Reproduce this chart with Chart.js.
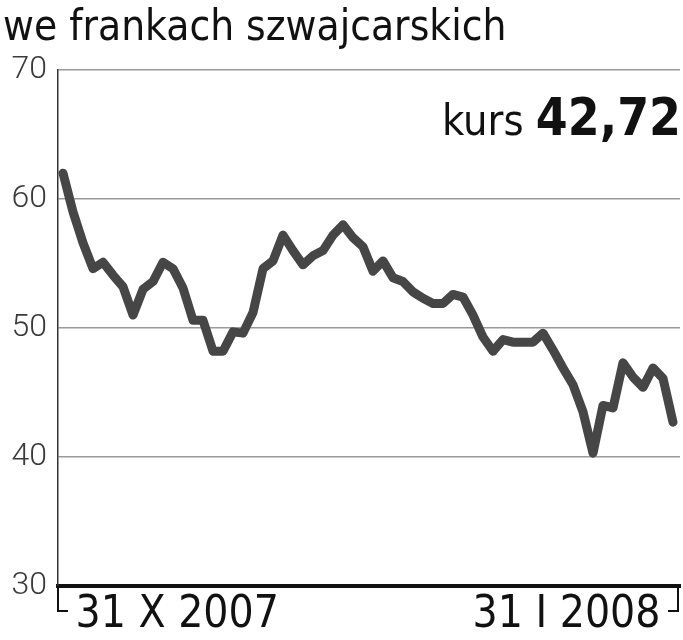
<!DOCTYPE html>
<html>
<head>
<meta charset="utf-8">
<script src="https://cdn.jsdelivr.net/npm/chart.js@4.4.1/dist/chart.umd.min.js"></script>
<style>
  body { margin: 0; background: #fff; }
  #chart { display: block; }
</style>
</head>
<body>
<canvas id="chart" width="683" height="640"></canvas>
<script>
var titleText = "we frankach szwajcarskich";
var lastLabel = "kurs";
var lastValue = "42,72";
var xTickLabels = ["31 X 2007", "31 I 2008"];
var yTicks = [30, 40, 50, 60, 70];
var rates = [
	62.0, 59.0, 56.6, 54.6, 55.1, 54.1, 53.2, 51.0, 53.0, 53.6,
	55.1, 54.6, 53.1, 50.6, 50.6, 48.2, 48.2, 49.7, 49.6, 51.2,
	54.6, 55.2, 57.2, 56.0, 54.9, 55.6, 56.0, 57.2, 58.0, 57.0,
	56.3, 54.4, 55.2, 53.9, 53.6, 52.8, 52.3, 51.9, 51.9, 52.6,
	52.4, 51.0, 49.3, 48.2, 49.1, 48.9, 48.9, 48.9, 49.6, 48.3,
	46.9, 45.6, 43.5, 40.3, 44.0, 43.8, 47.3, 46.2, 45.4, 46.9,
	46.1, 42.7
];
var sessions = rates.map(function(v, i) { return i; });

var fontFamily = '"DejaVu Sans Condensed", "Liberation Sans Narrow", "Roboto", sans-serif';
var tickFamily = 'Roboto, "DejaVu Sans", sans-serif';

var decorPlugin = {
	id: 'decor',
	afterDraw: function(chart) {
		var ctx = chart.ctx;
		var area = chart.chartArea;
		ctx.save();
		// title
		ctx.fillStyle = '#111';
		ctx.textBaseline = 'alphabetic';
		ctx.textAlign = 'left';
		ctx.font = '42px ' + fontFamily;
		ctx.fillText(titleText, 3, 40);
		// kurs 42,72
		ctx.font = 'bold 51px ' + fontFamily;
		var vw = ctx.measureText(lastValue).width;
		ctx.textAlign = 'right';
		ctx.fillText(lastValue, 681, 135);
		ctx.font = '43px ' + fontFamily;
		ctx.fillText(lastLabel + ' ', 681 - vw, 135);
		// bracket under the x axis
		ctx.strokeStyle = '#111';
		ctx.lineWidth = 2;
		ctx.beginPath();
		ctx.moveTo(area.left, area.bottom);
		ctx.lineTo(area.left, area.bottom + 25);
		ctx.lineTo(area.left + 10, area.bottom + 25);
		ctx.moveTo(area.right - 2, area.bottom);
		ctx.lineTo(area.right - 2, area.bottom + 25);
		ctx.lineTo(area.right - 12, area.bottom + 25);
		ctx.stroke();
		ctx.restore();
	}
};

var ctx = document.getElementById('chart').getContext('2d');
var chart = new Chart(ctx, {
	type: 'line',
	data: {
		labels: sessions,
		datasets: [{
			data: rates.map(function(v, i) { return { x: sessions[i], y: v }; }),
			borderColor: '#464646',
			borderWidth: 9,
			borderJoinStyle: 'round',
			borderCapStyle: 'round',
			pointRadius: 0,
			tension: 0,
			fill: false
		}]
	},
	options: {
		responsive: false,
		animation: false,
		layout: { padding: { top: 70, right: 3, left: 0, bottom: 0 } },
		plugins: {
			legend: { display: false },
			tooltip: { enabled: false }
		},
		scales: {
			x: {
				type: 'linear',
				min: -0.5,
				max: 61.7,
				afterBuildTicks: function(scale) {
					scale.ticks = [{ value: 0 }, { value: 61 }];
				},
				afterFit: function(scale) { scale.height = 54; },
				grid: { display: false, drawTicks: false },
				border: { color: '#111', width: 4 },
				ticks: {
					autoSkip: false,
					maxRotation: 0,
					align: 'inner',
					padding: 3,
					color: '#111',
					font: { family: fontFamily, size: 44 },
					callback: function(value) {
						return value === 0 ? ' ' + xTickLabels[0] : xTickLabels[1] + ' ';
					}
				}
			},
			y: {
				min: 30,
				max: 70,
				afterBuildTicks: function(scale) {
					scale.ticks = yTicks.map(function(v) { return { value: v }; });
				},
				afterFit: function(scale) { scale.width = 58; },
				grid: { color: '#9a9a9a', lineWidth: 1.5, drawTicks: false },
				border: { color: '#333', width: 1.5 },
				ticks: {
					padding: 11,
					color: '#3a3a3a',
					font: { family: tickFamily, size: 32, weight: '300' }
				}
			}
		}
	},
	plugins: [decorPlugin]
});
</script>
</body>
</html>
